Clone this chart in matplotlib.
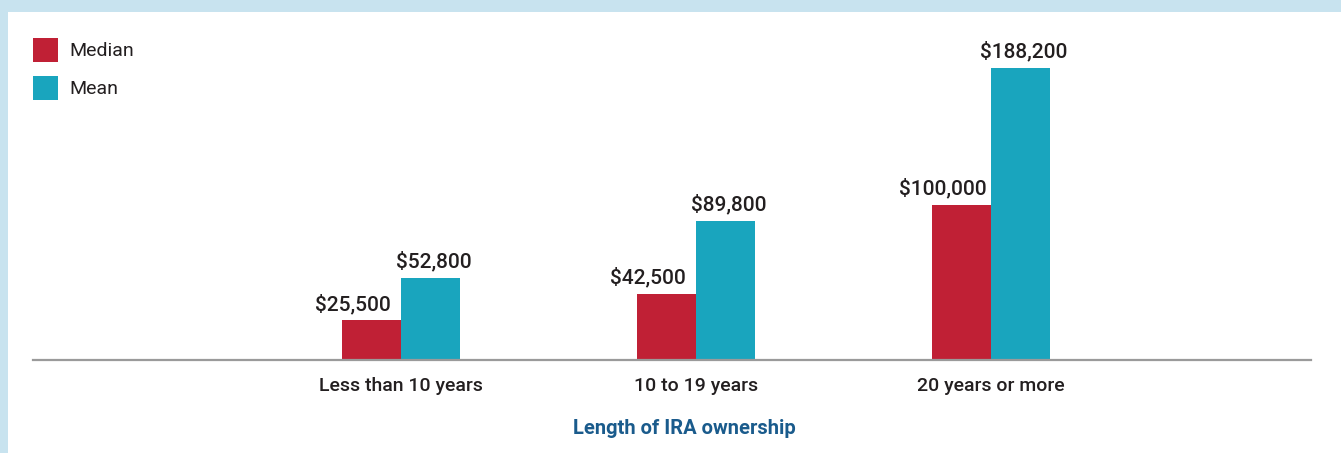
import numpy as np
import matplotlib.pyplot as plt
from matplotlib import font_manager
from matplotlib.patches import Rectangle

categories = ['Less than 10 years', '10 to 19 years', '20 years or more']
median = [25500, 42500, 100000]
mean = [52800, 89800, 188200]
series_names = ['Median', 'Mean']

red = '#c02035'
blue = '#19a5be'
frame = '#c8e3ef'
ink = '#231f20'

names = {f.name for f in font_manager.fontManager.ttflist}
fam = 'Liberation Sans Narrow' if 'Liberation Sans Narrow' in names else 'Roboto'
plt.rcParams['font.family'] = [fam, 'DejaVu Sans']

W, H = 1341, 453
fig = plt.figure(figsize=(W / 100, H / 100), dpi=100, facecolor=frame)
# white panel inside the light blue frame
fig.patches.append(Rectangle((8 / W, 0), 1 - 8 / W, (H - 12) / H,
                             transform=fig.transFigure, facecolor='white',
                             edgecolor='none', zorder=-5))

ax = fig.add_axes([33 / W, (H - 360) / H, 1278 / W, (360 - 12) / H])
ax.set_facecolor('none')

x = np.arange(len(categories))
bw = 0.2
b1 = ax.bar(x - bw / 2, median, bw, color=red, zorder=2, label=series_names[0])
b2 = ax.bar(x + bw / 2, mean, bw, color=blue, zorder=2, label=series_names[1])

ax.set_xlim((33 - 401) / 295, (1311 - 401) / 295)
ax.set_ylim(0, 188200 * 348 / 292)

for xi, v in zip(x, median):
    ax.annotate('${:,}'.format(v), (xi - bw / 2, v), xytext=(-13.7, 7.5),
                textcoords='offset points', ha='center', va='baseline',
                fontsize=15, fontweight='medium', color=ink)
for xi, v in zip(x, mean):
    ax.annotate('${:,}'.format(v), (xi + bw / 2, v), xytext=(2.2, 7.5),
                textcoords='offset points', ha='center', va='baseline',
                fontsize=15, fontweight='medium', color=ink)

for s in ['top', 'right', 'left']:
    ax.spines[s].set_visible(False)
ax.spines['bottom'].set_color('#9a9a9a')
ax.spines['bottom'].set_linewidth(1.6)
ax.set_yticks([])
ax.set_xticks(x)
ax.set_xticklabels(categories, fontsize=14, fontweight='medium', color=ink)
ax.tick_params(axis='x', length=0, pad=12)

fig.text(684 / W, (H - 428) / H, 'Length of IRA ownership', ha='center', va='center',
         fontsize=14.5, fontweight='semibold', color='#1a5b8c')

leg = fig.legend(handles=[b1, b2], labels=series_names, loc='upper left',
                 bbox_to_anchor=(25 / W, (H - 30) / H), frameon=False,
                 fontsize=14, handlelength=1.3, handleheight=1.5,
                 handletextpad=0.6, labelspacing=0.75, borderaxespad=0)
for t in leg.get_texts():
    t.set_color(ink)

plt.savefig('out.png', dpi=100, facecolor=frame)
